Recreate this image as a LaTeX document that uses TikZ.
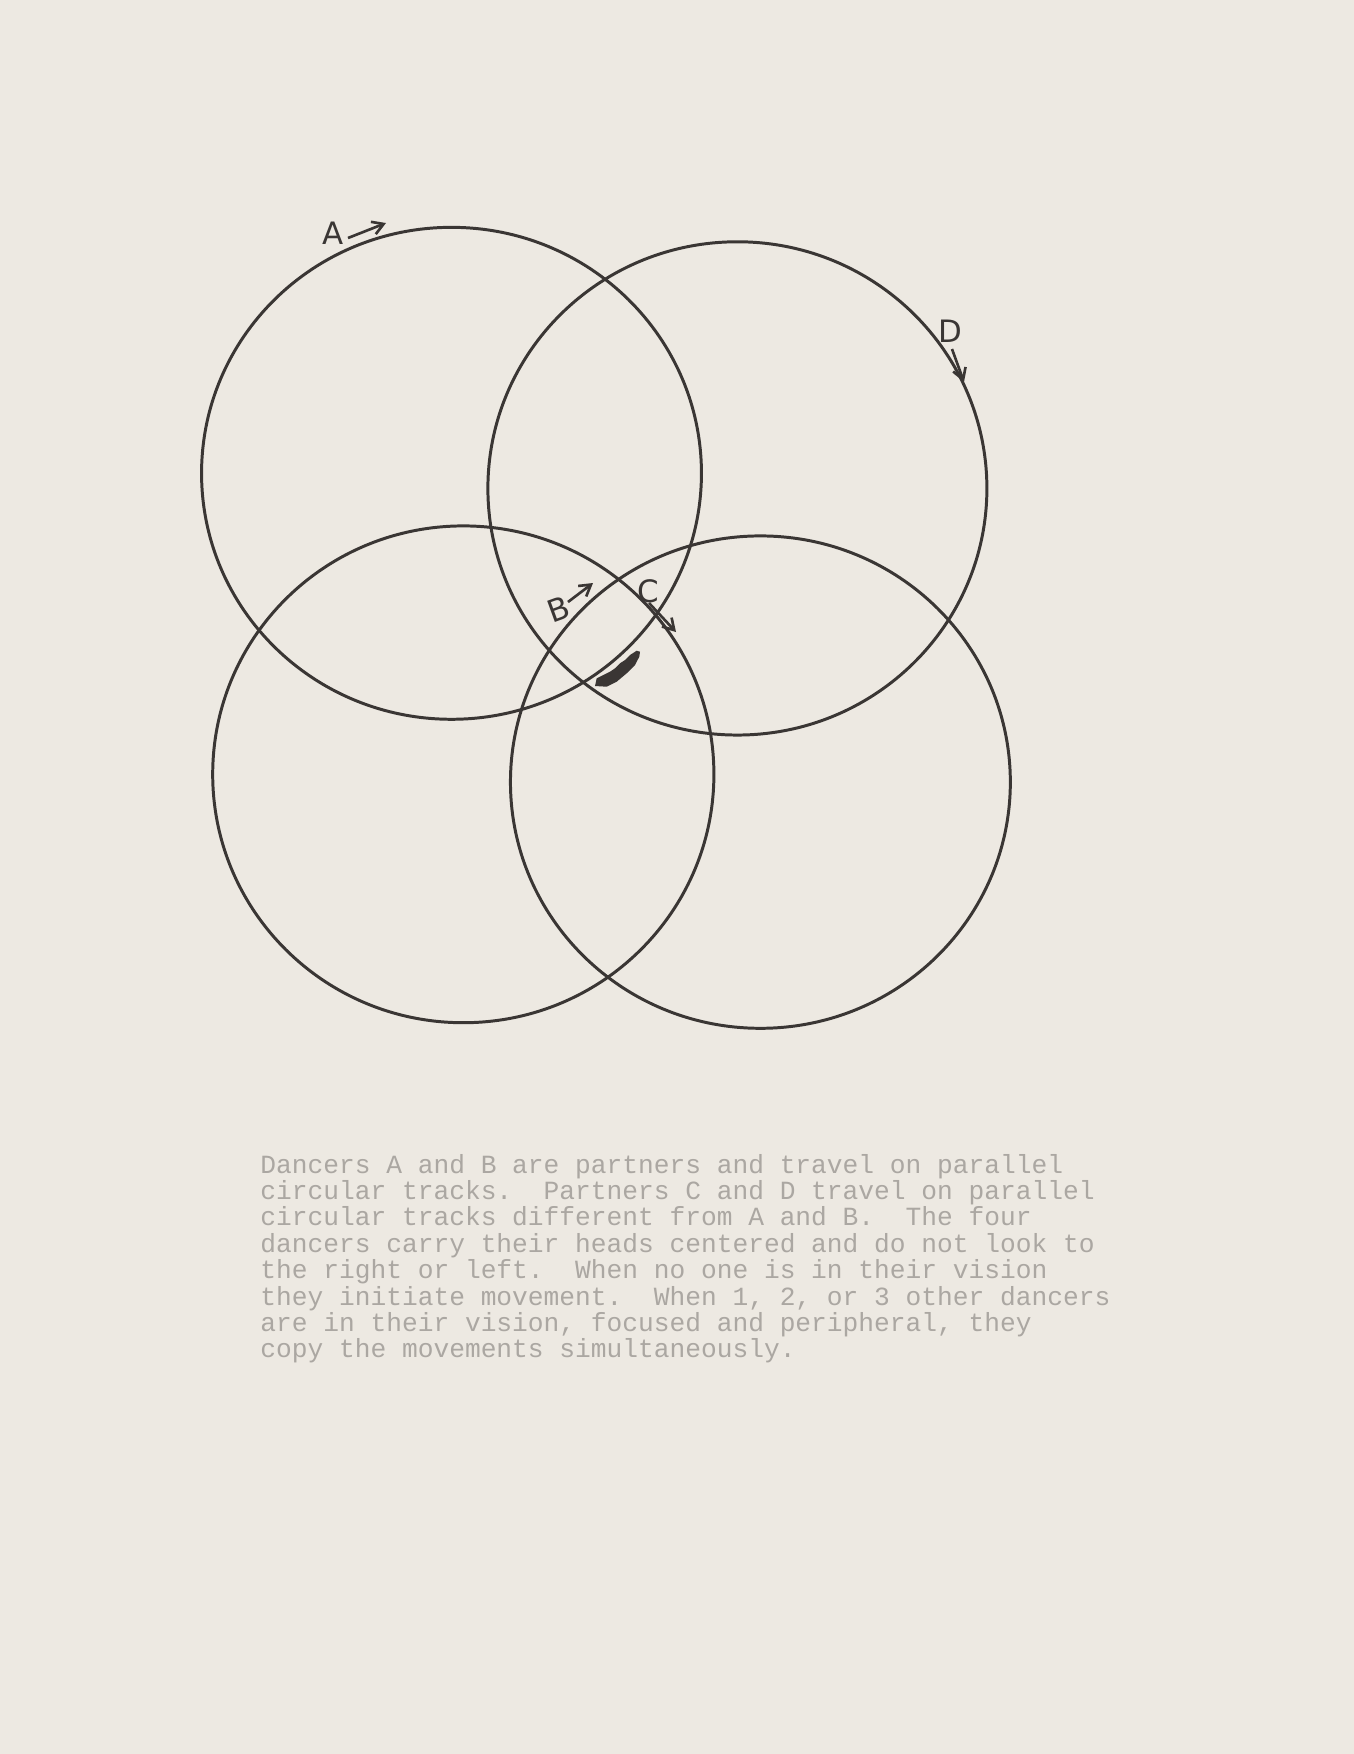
\documentclass[tikz,border=0pt]{standalone}
\usepackage{fontspec}
\usetikzlibrary{arrows.meta}
\newfontfamily\tw[WordSpace={1,0,0}]{Liberation Mono}
\newfontfamily\hand{DejaVu Sans}
\definecolor{paper}{HTML}{EDE9E2}
\definecolor{ink}{HTML}{3A3634}
\definecolor{typed}{HTML}{ABA7A2}
\tikzset{
  track/.style={draw=ink, line width=1.35pt},
  lbl/.style={text=ink, font=\hand\fontsize{14}{14}\selectfont, inner sep=0pt},
  dir/.style={draw=ink, line width=1.2pt, -{Straight Barb[length=5pt,width=6pt]}},
  typeline/.style={text=typed, font=\tw\fontsize{11.9}{12}\selectfont, anchor=base west, inner sep=0pt}
}
\begin{document}
\frenchspacing
\begin{tikzpicture}[x=0.4537pt,y=-0.4537pt]
\fill[paper] (0,0) rectangle (1354,1754);
\useasboundingbox (0,0) rectangle (1354,1754);
% centres of the four circular tracks
\coordinate (cA) at (451.5,473.3);
\coordinate (cD) at (737.4,488.4);
\coordinate (cB) at (463.3,774.3);
\coordinate (cC) at (760.4,782.1);
\draw[track] (cA) ellipse[x radius=113.4pt, y radius=111.6pt];
\draw[track] (cD) ellipse[x radius=113.2pt, y radius=111.9pt];
\draw[track] (cB) ellipse[x radius=113.7pt, y radius=112.7pt];
\draw[track] (cC) ellipse[x radius=113.4pt, y radius=111.7pt];
% labels
\node[lbl] (A) at (333,233) {A};
\node[lbl] (D) at (950,331) {D};
\node[lbl, rotate=20] (B) at (559,609) {B};
\node[lbl] (C) at (648,591) {C};
% direction arrows
\coordinate (a1) at (348,238);
\coordinate (a2) at (386,223);
\coordinate (d1) at (952,349);
\coordinate (d2) at (964,382);
\coordinate (b1) at (568,602);
\coordinate (b2) at (593,583);
\coordinate (c1) at (649,603);
\coordinate (c2) at (676,632);
\draw[dir] (a1) -- (a2);
\draw[dir] (d1) -- (d2);
\draw[dir] (b1) -- (b2);
\draw[dir] (c1) -- (c2);
% dark mark
\fill[ink] (595,686) -- (606.7,686.7) -- (616.7,681.7) -- (626.7,673.3) -- (635,665)
  -- (639.3,656.7) -- (640,651.7) -- (636.7,650.7) -- (630,655) -- (625,660)
  -- (620,663.3) -- (615,668.3) -- (610,671.7) -- (603.3,675) -- (596.7,678.3) -- cycle;
% typed text
\node[typeline] (t1) at (260,1173) {Dancers A and B are partners and travel on parallel};
\node[typeline] (t2) at (260,1199.4) {circular tracks.\ \ Partners C and D travel on parallel};
\node[typeline] (t3) at (260,1225.8) {circular tracks different from A and B.\ \ The four};
\node[typeline] (t4) at (260,1252.2) {dancers carry their heads centered and do not look to};
\node[typeline] (t5) at (260,1278.6) {the right or left.\ \ When no one is in their vision};
\node[typeline] (t6) at (260,1305) {they initiate movement.\ \ When 1, 2, or 3 other dancers};
\node[typeline] (t7) at (260,1331.4) {are in their vision, focused and peripheral, they};
\node[typeline] (t8) at (260,1357.8) {copy the movements simultaneously.};
\end{tikzpicture}
\end{document}
